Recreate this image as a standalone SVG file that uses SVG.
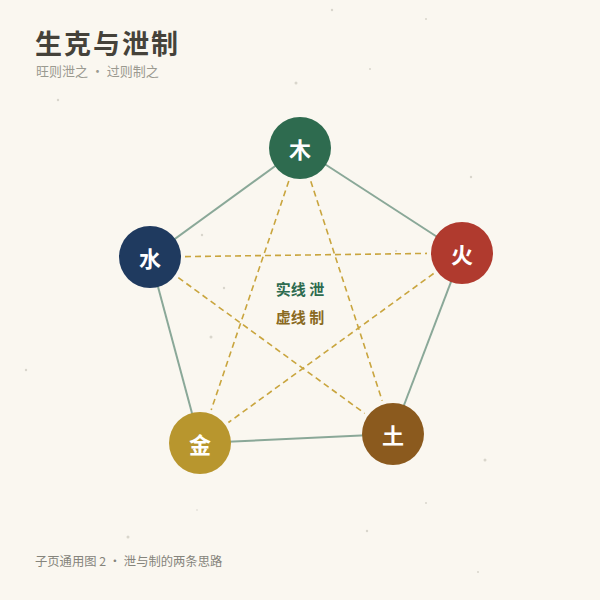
<svg xmlns="http://www.w3.org/2000/svg" width="600" height="600" viewBox="0 0 600 600">
  <style>
    .cjk { font-family: "Noto Sans CJK SC", "Noto Sans", sans-serif; }
    .title { font-size: 27px; font-weight: 600; fill: #45423a; letter-spacing: 2px; }
    .sub { font-size: 13px; fill: #9b9a90; }
    .foot { font-size: 12.3px; fill: #85847b; }
    .legend { font-size: 15px; font-weight: 700; text-anchor: middle; }
    .node-label { font-size: 22px; font-weight: 700; fill: #ffffff; text-anchor: middle; dominant-baseline: central; }
    .solid { stroke: #8aa898; stroke-width: 2; fill: none; }
    .dash { stroke: #c9a53e; stroke-width: 1.6; stroke-dasharray: 6 4; fill: none; }
    .speck { fill: #d9d6cc; }
  </style>
  <rect width="600" height="600" fill="#faf7f0"/>
  <g id="texture">
    <circle class="speck" cx="332" cy="10" r="1.2"/>
    <circle class="speck" cx="426" cy="19" r="1"/>
    <circle class="speck" cx="296" cy="83" r="1.5"/>
    <circle class="speck" cx="370" cy="69" r="1"/>
    <circle class="speck" cx="58" cy="100" r="1.2"/>
    <circle class="speck" cx="471" cy="177" r="1.2"/>
    <circle class="speck" cx="202" cy="235" r="1.2"/>
    <circle class="speck" cx="224" cy="288" r="1.2"/>
    <circle class="speck" cx="211" cy="337" r="1.5"/>
    <circle class="speck" cx="26" cy="370" r="1.2"/>
    <circle class="speck" cx="485" cy="460" r="1.5"/>
    <circle class="speck" cx="426" cy="503" r="1"/>
    <circle class="speck" cx="367" cy="531" r="1.2"/>
    <circle class="speck" cx="128" cy="537" r="1.5"/>
    <circle class="speck" cx="197" cy="510" r="0.8"/>
    <circle class="speck" cx="478" cy="572" r="1"/>
    <circle class="speck" cx="396" cy="251" r="1"/>
  </g>
  <g id="header">
    <text class="cjk title" x="35" y="54">生克与泄制</text>
    <text class="cjk sub" x="36" y="76">旺则泄之 · 过则制之</text>
  </g>
  <g id="connectors">
    <line class="solid" x1="300" y1="148" x2="462" y2="253"/>
    <line class="solid" x1="462" y1="253" x2="393" y2="434"/>
    <line class="solid" x1="393" y1="434" x2="200" y2="443"/>
    <line class="solid" x1="200" y1="443" x2="150" y2="257"/>
    <line class="solid" x1="150" y1="257" x2="300" y2="148"/>
    <line class="dash" x1="310.8" y1="181.3" x2="382.2" y2="400.7"/>
    <line class="dash" x1="288.8" y1="181.1" x2="211.2" y2="409.9"/>
    <line class="dash" x1="185" y1="256.6" x2="427" y2="253.4"/>
    <line class="dash" x1="178.3" y1="277.6" x2="364.7" y2="413.4"/>
    <line class="dash" x1="433.6" y1="273.5" x2="228.4" y2="422.5"/>
  </g>
  <g id="legend">
    <text class="cjk legend" x="300" y="295" fill="#2e6b4f">实线 泄</text>
    <text class="cjk legend" x="300" y="323" fill="#8a6a22">虚线 制</text>
  </g>
  <g id="node-wood">
    <circle cx="300" cy="148" r="31" fill="#2e6b4f"/>
    <text class="cjk node-label" x="300" y="148">木</text>
  </g>
  <g id="node-fire">
    <circle cx="462" cy="253" r="31" fill="#b03a2e"/>
    <text class="cjk node-label" x="462" y="253">火</text>
  </g>
  <g id="node-earth">
    <circle cx="393" cy="434" r="31" fill="#8b5a1e"/>
    <text class="cjk node-label" x="393" y="434">土</text>
  </g>
  <g id="node-metal">
    <circle cx="200" cy="443" r="31" fill="#b8962e"/>
    <text class="cjk node-label" x="200" y="443">金</text>
  </g>
  <g id="node-water">
    <circle cx="150" cy="257" r="31" fill="#1f3a5f"/>
    <text class="cjk node-label" x="150" y="257">水</text>
  </g>
  <g id="footer">
    <text class="cjk foot" x="35" y="566">子页通用图 2 · 泄与制的两条思路</text>
  </g>
</svg>
